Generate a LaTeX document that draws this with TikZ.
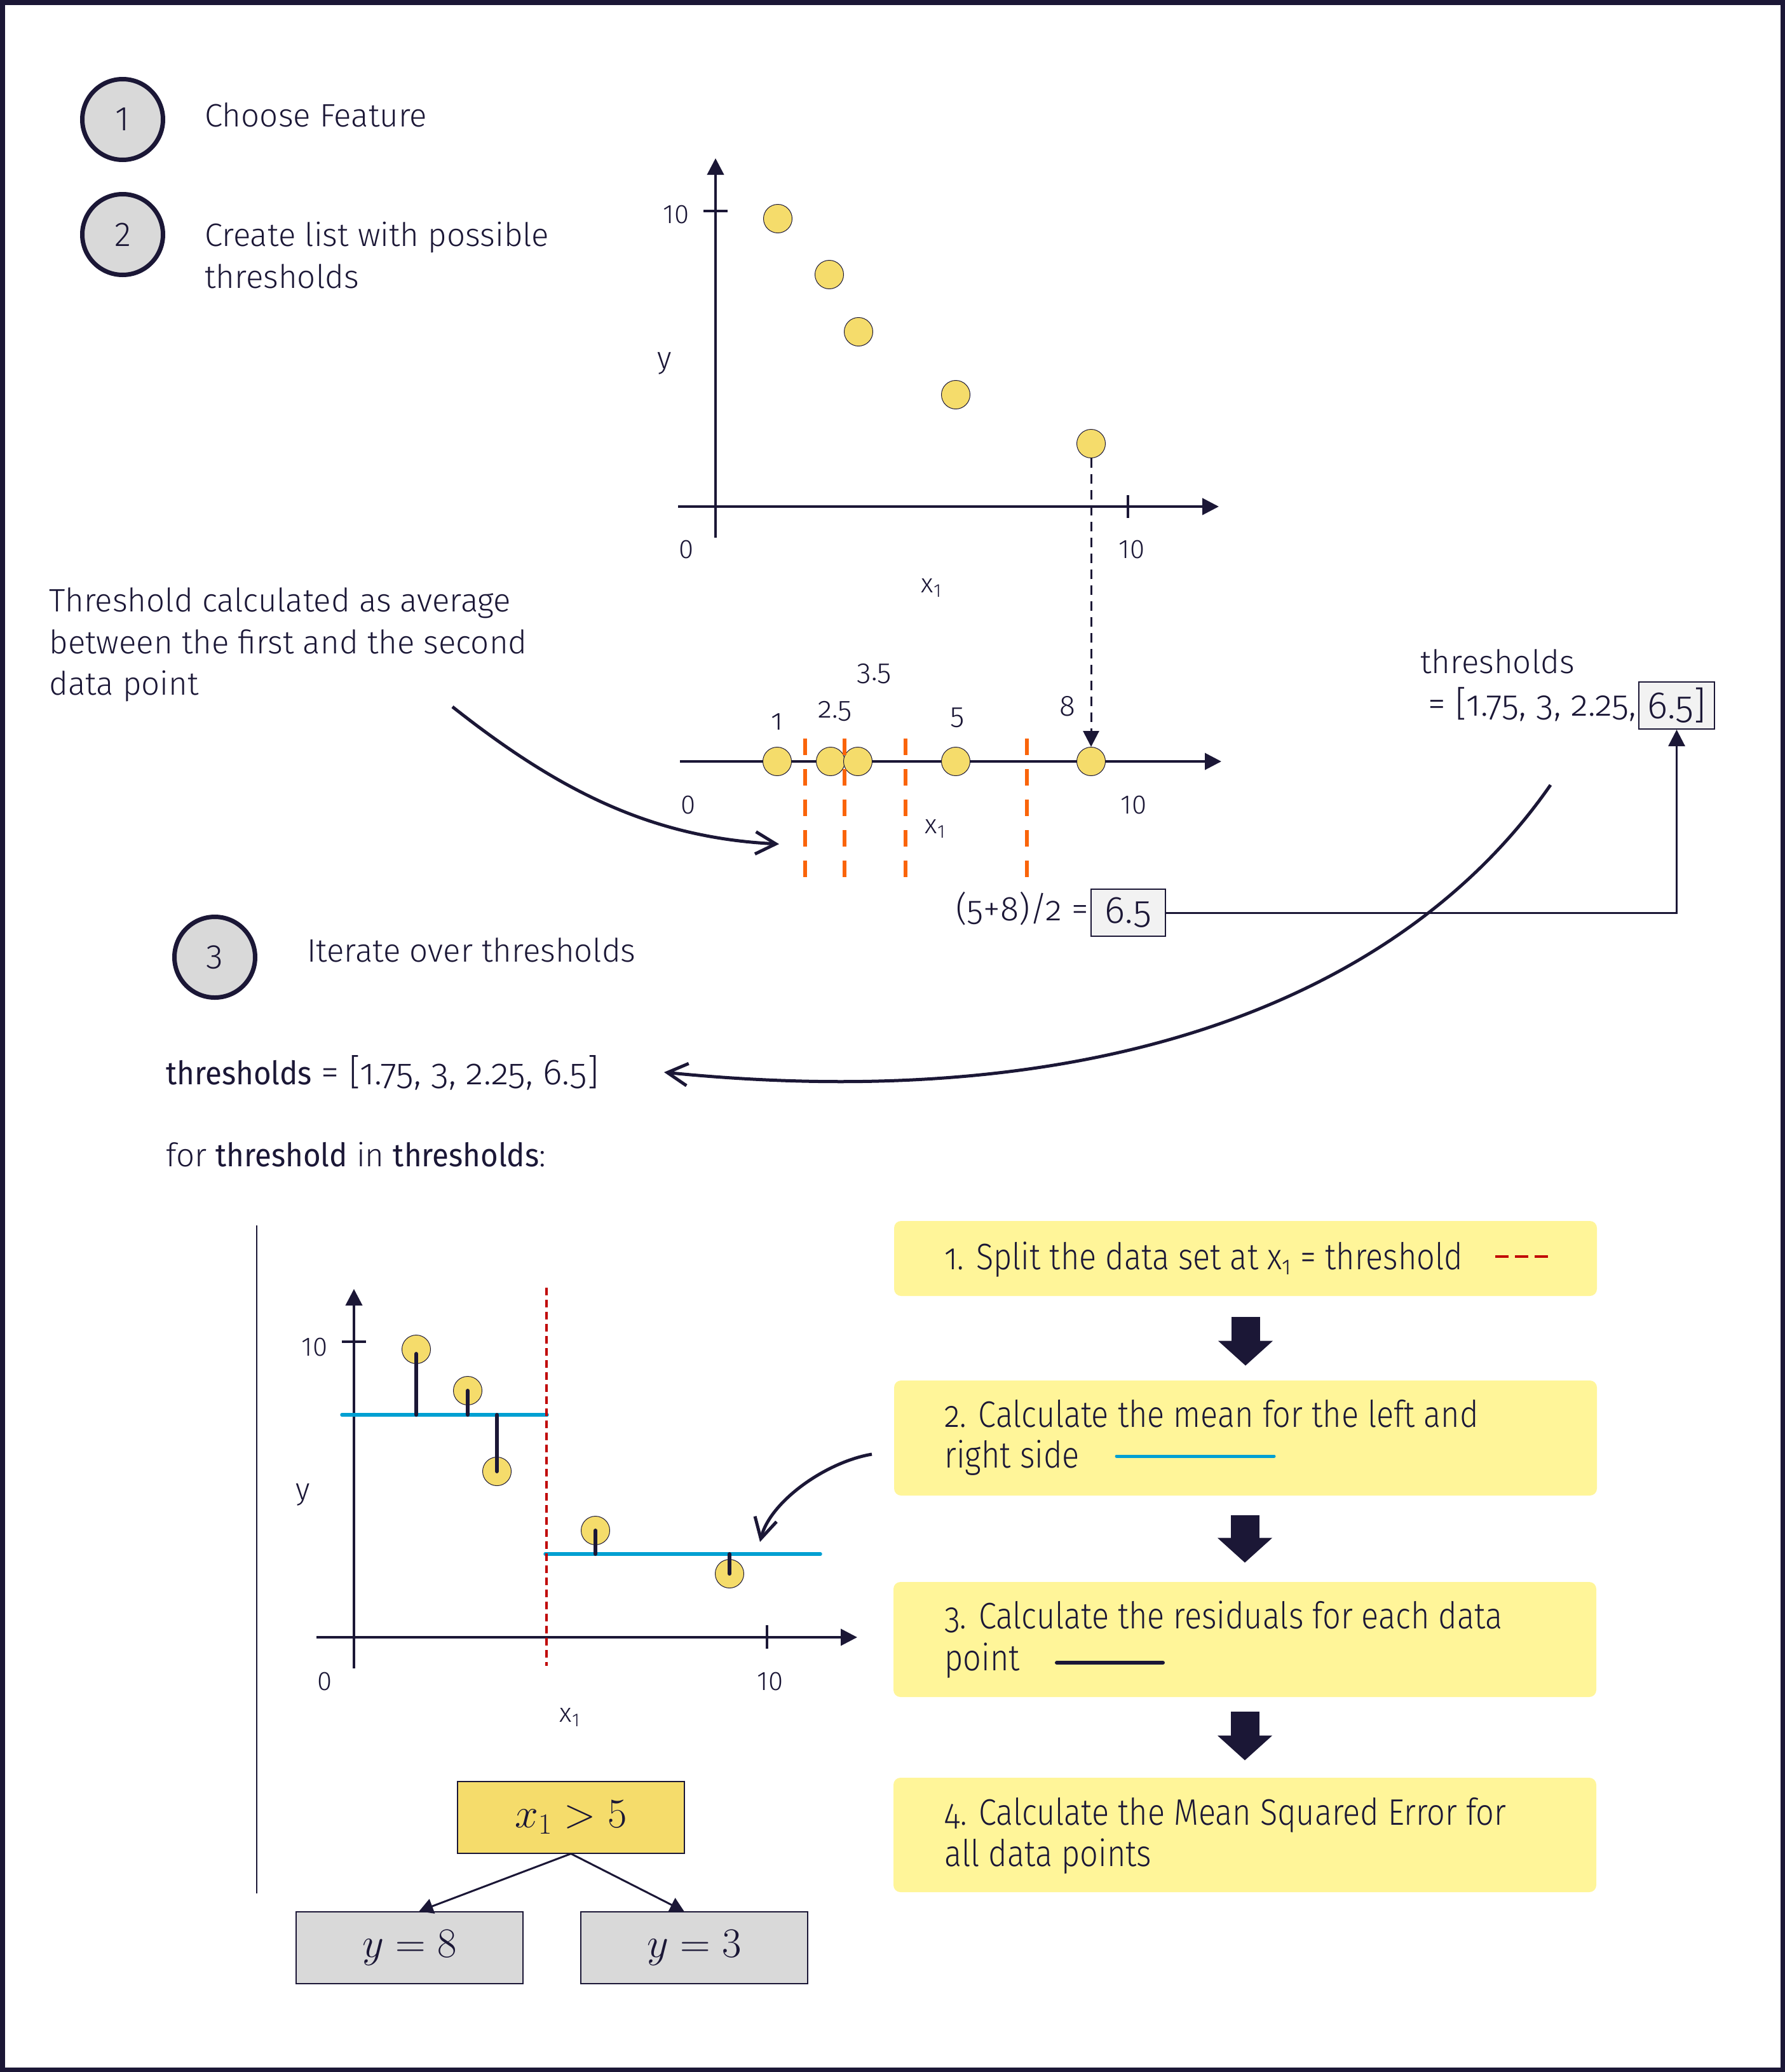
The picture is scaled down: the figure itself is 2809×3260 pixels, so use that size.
\documentclass[tikz,border=0pt]{standalone}
\usepackage{fix-cm}
\usepackage[no-math]{fontspec}
\setmainfont{Fira Sans Light}[BoldFont={Fira Sans}, BoldFeatures={FakeStretch=0.93}, Numbers=OldStyle]
\newfontfamily\boxfont{Fira Sans Light}[Numbers=OldStyle, FakeStretch=0.87]
\usetikzlibrary{arrows.meta}
\definecolor{navy}{RGB}{27,23,54}
\definecolor{ptyellow}{RGB}{245,220,107}
\definecolor{boxyellow}{RGB}{255,245,153}
\definecolor{circgray}{RGB}{217,217,217}
\definecolor{boxgray}{RGB}{242,242,242}
\definecolor{orng}{RGB}{250,100,10}
\definecolor{meanblue}{RGB}{0,160,210}
\definecolor{dred}{RGB}{192,0,0}
\begin{document}
\begin{tikzpicture}[x=0.5pt,y=-0.5pt,
  txt/.style={inner sep=0pt, text=navy, font=\fontsize{25.5pt}{32pt}\selectfont},
  lab/.style={inner sep=0pt, text=navy, font=\fontsize{21pt}{25pt}\selectfont\addfontfeatures{Numbers=Lining}},
  lowlab/.style={inner sep=0pt, text=navy, font=\fontsize{23pt}{28pt}\selectfont},
  btxt/.style={inner sep=0pt, text=navy, font=\boxfont\fontsize{29pt}{35pt}\selectfont},
  axis/.style={draw=navy, line width=2pt, -{Triangle[length=13pt,width=13pt]}},
  tick/.style={draw=navy, line width=2pt},
  dot/.style={circle, fill=ptyellow, draw=navy, line width=0.5pt, minimum size=22.5pt, inner sep=0pt},
  stepc/.style={circle, draw=navy, line width=3.5pt, fill=circgray, minimum size=63.5pt, inner sep=0pt, text=navy, font=\fontsize{27pt}{32pt}\selectfont\addfontfeatures{Numbers=Lining}},
  orngdash/.style={draw=orng, line width=3pt, dash pattern=on 13pt off 11pt},
  meanl/.style={draw=meanblue, line width=2.75pt, line cap=round},
  resid/.style={draw=navy, line width=3pt, line cap=round},
  flow/.style={rectangle, rounded corners=5.5pt, fill=boxyellow, minimum width=553pt, inner sep=0pt},
  blockarr/.style={draw=navy, line width=22.5pt, -{Triangle[length=19.5pt,width=42pt]}},
  barb/.style={draw=navy, line width=2.5pt, -{Straight Barb[length=16pt,width=17.5pt]}},
  thinl/.style={draw=navy, line width=1.5pt},
  treearr/.style={draw=navy, line width=1.5pt, -{Triangle[length=11pt,width=12pt]}},
  gbox/.style={rectangle, draw=navy, line width=1pt, fill=boxgray, inner sep=0pt, text=navy, font=\fontsize{30pt}{34pt}\selectfont},
  leaf/.style={rectangle, draw=navy, line width=1pt, fill=circgray, minimum width=178.5pt, minimum height=56.5pt, inner sep=0pt, text=navy, font=\fontsize{33pt}{39pt}\selectfont},
]
\useasboundingbox (0,0) rectangle (2809,3260);
\draw[navy, line width=3.75pt] (3.75,3.75) rectangle (2805.25,3256.25);

% ---- steps 1 and 2
\node[stepc] (s1) at (193,188) {1};
\node[txt, anchor=base west] (s1t) at (322,199) {Choose Feature};
\node[stepc] (s2) at (193,369) {2};
\node[txt, anchor=base west] (s2t) at (322,387) {Create list with possible};
\node[txt, anchor=base west] (s2u) at (322,453) {thresholds};

% ---- top chart
\draw[axis] (1126,846) -- (1126,249);
\draw[tick] (1107,332) -- (1145,332);
\draw[axis] (1067,797) -- (1918,797);
\draw[tick] (1775,779) -- (1775,815);
\node[lab] (ya10) at (1064,338) {10};
\node[lab, font=\fontsize{24pt}{28pt}\selectfont] (yay) at (1046,572) {y};
\node[lab] (xa0) at (1080,865) {0};
\node[lab] (xa10) at (1781,865) {10};
\node[lab] (xax) at (1466,925) {x\textsubscript{1}};
\node[dot] (p1) at (1224,344) {};
\node[dot] (p2) at (1305,432) {};
\node[dot] (p3) at (1351,522) {};
\node[dot] (p4) at (1504,621) {};
\node[dot] (p5) at (1717,698) {};

% ---- lower axis
\draw[axis] (1070,1198) -- (1922,1198);
\node[dot] (q1) at (1223,1198) {};
\node[dot] (q2) at (1307,1198) {};
\node[dot] (q3) at (1350,1198) {};
\node[dot] (q4) at (1504,1198) {};
\node[dot] (q5) at (1717,1198) {};
\draw[navy, line width=1.5pt, dash pattern=on 7.5pt off 5pt, -{Triangle[length=12.5pt,width=12.5pt]}] (p5) -- (q5);
\draw[orngdash] (1267,1162) -- (1267,1384);
\draw[orngdash] (1329,1162) -- (1329,1384);
\draw[orngdash] (1425,1162) -- (1425,1384);
\draw[orngdash] (1616,1162) -- (1616,1384);
\node[lowlab] (l1) at (1223,1136) {1};
\node[lowlab] (l25) at (1314,1119) {2.5};
\node[lowlab] (l35) at (1376,1060) {3.5};
\node[lowlab] (l5) at (1507,1129) {5};
\node[lowlab] (l8) at (1680,1111) {8};
\node[lab] (lo0) at (1083,1267) {0};
\node[lab] (lo10) at (1784,1267) {10};
\node[lab] (lox) at (1472,1304) {x\textsubscript{1}};

% ---- explanation text and arrow
\node[txt, anchor=base west] (e1) at (77,962) {Threshold calculated as average};
\node[txt, anchor=base west] (e2) at (77,1028) {between the first and the second};
\node[txt, anchor=base west] (e3) at (77,1093) {data point};
\coordinate (c1a) at (712,1112);
\coordinate (c1b) at (1226,1328);
\draw[barb] (c1a) .. controls (880,1245) and (1026,1318) .. (c1b);

% ---- (5+8)/2 = 6.5
\node[txt, anchor=base east, font=\fontsize{27pt}{32pt}\selectfont] (avg) at (1714,1448) {(5+8)/2 =};
\node[gbox, minimum width=58.5pt, minimum height=37pt] (b65) at (1775.5,1436) {6.5};

% ---- thresholds list top right
\node[txt, anchor=base west] (tl1) at (2235,1059) {thresholds};
\node[txt, anchor=base west, font=\fontsize{28pt}{32pt}\selectfont] (tl2) at (2247,1126) {= [1.75, 3, 2.25,};
\node[gbox, minimum width=59.5pt, minimum height=37pt] (t65) at (2638.5,1110) {6.5]};
\draw[thinl, -{Triangle[length=13pt,width=13pt]}] (b65.east) -| (t65.south);

% ---- big curved arrow
\coordinate (c2a) at (2440,1235);
\coordinate (c2b) at (1045,1687);
\draw[barb] (c2a) .. controls (2212,1563) and (1745,1757) .. (c2b);

% ---- step 3
\node[stepc] (s3) at (338,1506) {\addfontfeatures{Numbers=OldStyle}3};
\node[txt, anchor=base west] (s3t) at (483,1513) {Iterate over thresholds};
\node[txt, anchor=base west] (lst) at (261,1706) {\textbf{thresholds} {\fontsize{28.5pt}{32pt}\selectfont = [1.75, 3, 2.25, 6.5]}};
\node[txt, anchor=base west] (forl) at (261,1835) {for \textbf{threshold} in \textbf{thresholds}:};

% ---- separator
\draw[navy, line width=1pt] (404,1928) -- (404,2979);

% ---- chart 3
\draw[axis] (557,2625) -- (557,2028);
\draw[tick] (538,2111) -- (576,2111);
\draw[axis] (498,2576) -- (1349,2576);
\draw[tick] (1207,2557) -- (1207,2594);
\node[lab] (c3y10) at (495,2120) {10};
\node[lab, font=\fontsize{24pt}{28pt}\selectfont] (c3y) at (477,2352) {y};
\node[lab] (c3x0) at (511,2645) {0};
\node[lab] (c3x10) at (1212,2645) {10};
\node[lab] (c3xl) at (897,2702) {x\textsubscript{1}};
\coordinate (mA1) at (538,2226);
\coordinate (mA2) at (861,2226);
\coordinate (mB1) at (858,2445);
\coordinate (mB2) at (1291,2445);
\draw[meanl] (mA1) -- (mA2);
\draw[meanl] (mB1) -- (mB2);
\draw[draw=dred, line width=2pt, dash pattern=on 6pt off 3.5pt] (860,2026) -- (860,2621);
\node[dot] (r1) at (655,2123) {};
\node[dot] (r2) at (736,2188) {};
\node[dot] (r3) at (782,2315) {};
\node[dot] (r4) at (937,2408) {};
\node[dot] (r5) at (1148,2476) {};
\draw[resid] ([yshift=-3.5pt]r1.center) -- (r1.center |- mA1);
\draw[resid] (r2.center) -- (r2.center |- mA1);
\draw[resid] (r3.center) -- (r3.center |- mA1);
\draw[resid] (r4.center) -- (r4.center |- mB1);
\draw[resid] (r5.center) -- (r5.center |- mB1);

% ---- flow boxes
\node[flow, minimum height=59pt] (B1) at (1960,1980) {};
\node[flow, minimum height=90.5pt] (B2) at (1960,2262.5) {};
\node[flow, minimum height=90.5pt] (B3) at (1959,2579.5) {};
\node[flow, minimum height=90pt] (B4) at (1959,2887) {};
\node[btxt, anchor=base west] (B1t) at (1486,1997) {1. Split the data set at x\textsubscript{1} = threshold};
\draw[draw=dred, line width=2pt, dash pattern=on 10.5pt off 5pt] (2353,1977) -- (2436,1977);
\node[btxt, anchor=base west] (B2t) at (1486,2245) {2. Calculate the mean for the left and};
\node[btxt, anchor=base west] (B2u) at (1486,2309) {right side};
\draw[meanl, line width=2.5pt] (1757,2291) -- (2005,2291);
\node[btxt, anchor=base west] (B3t) at (1486,2562) {3. Calculate the residuals for each data};
\node[btxt, anchor=base west] (B3u) at (1486,2628) {point};
\draw[resid] (1663,2616) -- (1830,2616);
\node[btxt, anchor=base west] (B4t) at (1486,2871) {4. Calculate the Mean Squared Error for};
\node[btxt, anchor=base west] (B4u) at (1486,2936) {all data points};
\draw[blockarr, shorten <=16.5pt, shorten >=11.5pt] (B1.south) -- (B2.north);
\draw[blockarr, shorten <=15.5pt, shorten >=15pt] ([xshift=-0.5pt]B2.south) -- (B3.north);
\draw[blockarr, shorten <=11.5pt, shorten >=13.5pt] (B3.south) -- (B4.north);

% ---- arrow from box 2 to mean line
\coordinate (c3a) at (1372,2288);
\coordinate (c3b) at (1196,2426);
\draw[barb] (c3a) .. controls (1300,2300) and (1212,2362) .. (c3b);

% ---- tree
\node[leaf, fill=ptyellow] (T) at (898.5,2859) {$x_1 > 5$};
\node[leaf] (L) at (644.5,3064.5) {$y = 8$};
\node[leaf] (R) at (1092.5,3064.5) {$y = 3$};
\draw[treearr] (T.south) -- ([xshift=7.5pt]L.north);
\draw[treearr] (T.south) -- ([xshift=-8pt]R.north);
\end{tikzpicture}
\end{document}
